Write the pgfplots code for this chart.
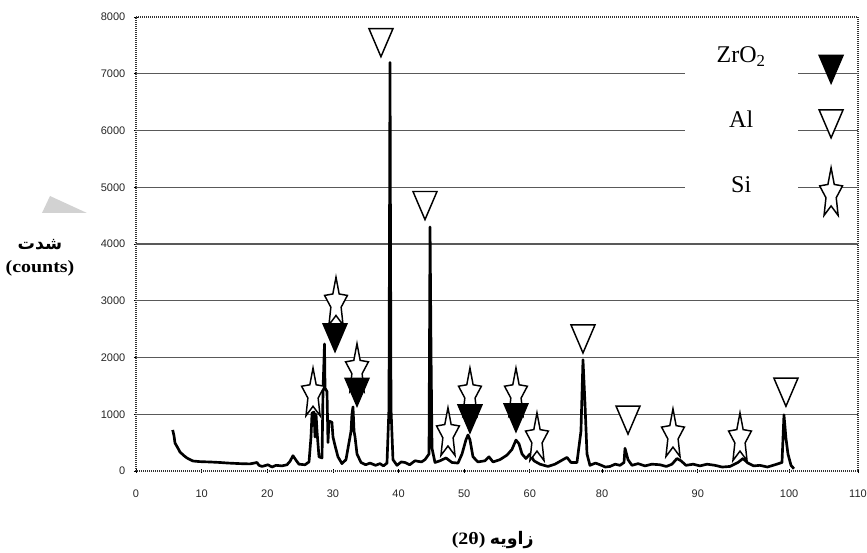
\documentclass[border=0pt]{standalone}
\usepackage{fontspec}
\setmainfont{Liberation Serif}
\newfontfamily\tickfont{Liberation Sans}
\newfontfamily\labelfont[FakeStretch=1.15]{Liberation Serif}
\newfontfamily\arabicfont[Script=Arabic]{DejaVu Sans}
\TeXXeTstate=1
\usepackage{pgfplots}
\usepackage{pgfplotstable}
\pgfplotsset{compat=1.18}

% open five-pointed star used for the Si reflections
\pgfdeclareplotmark{ostar}{%
  \pgfpathmoveto{\pgfpointpolar{90}{\pgfplotmarksize}}%
  \pgfpathlineto{\pgfpointpolar{126}{0.45\pgfplotmarksize}}%
  \pgfpathlineto{\pgfpointpolar{162}{\pgfplotmarksize}}%
  \pgfpathlineto{\pgfpointpolar{198}{0.45\pgfplotmarksize}}%
  \pgfpathlineto{\pgfpointpolar{234}{\pgfplotmarksize}}%
  \pgfpathlineto{\pgfpointpolar{270}{0.45\pgfplotmarksize}}%
  \pgfpathlineto{\pgfpointpolar{306}{\pgfplotmarksize}}%
  \pgfpathlineto{\pgfpointpolar{342}{0.45\pgfplotmarksize}}%
  \pgfpathlineto{\pgfpointpolar{18}{\pgfplotmarksize}}%
  \pgfpathlineto{\pgfpointpolar{54}{0.45\pgfplotmarksize}}%
  \pgfpathclose
  \pgfusepathqfillstroke
}

% diffraction pattern (x in displayed axis units)
\pgfplotstableread{
x y
5.59 723
5.79 620
5.94 494
6.40 400
6.70 335
7.31 270
7.77 229
8.68 176
9.75 165
11.27 159
12.80 150
13.86 141
15.84 130
17.37 125
18.43 150
18.74 100
19.20 80
20.11 110
20.72 70
21.33 100
22.24 90
23.00 110
23.46 170
23.92 270
24.38 190
24.83 120
25.75 110
26.36 160
26.66 600
26.82 1020
27.12 1040
27.27 600
27.43 1000
27.58 700
27.88 250
28.34 230
28.50 1460
28.72 2240
28.80 1460
29.10 1400
29.25 500
29.40 880
29.85 860
30.01 600
30.32 450
30.77 250
31.38 130
31.99 200
32.45 500
32.76 700
32.90 1000
33.06 1130
33.22 700
33.37 600
33.67 300
34.28 150
35.00 110
35.65 140
36.50 100
37.17 130
37.70 90
38.24 140
38.54 1100
38.70 7200
38.85 1100
39.15 200
39.76 100
40.40 160
40.98 150
41.70 110
42.50 180
43.50 160
44.03 200
44.64 300
44.80 4300
44.95 2080
45.10 400
45.55 150
46.31 180
47.23 230
48.14 150
49.06 140
49.67 300
50.27 550
50.58 635
50.88 550
51.34 250
52.10 160
53.17 180
53.78 250
54.39 160
55.45 200
56.52 280
57.28 380
57.89 545
58.35 480
58.81 300
59.41 220
60.02 300
60.63 180
61.55 120
62.77 80
63.83 120
65.05 200
65.66 240
66.27 150
67.18 150
67.79 700
68.10 1960
68.40 1200
68.71 300
69.16 100
70.00 140
70.69 110
71.50 70
72.21 80
73.00 120
73.74 100
74.35 150
74.50 400
74.96 200
75.56 100
76.50 130
77.54 90
78.60 120
79.83 110
80.80 80
81.66 120
82.42 220
83.03 180
83.79 100
84.90 120
85.92 90
87.00 120
88.21 100
89.30 70
90.49 80
91.71 150
92.47 220
93.23 140
94.10 90
95.06 100
96.20 70
97.35 110
98.42 150
98.72 990
99.02 580
99.33 300
99.79 100
100.24 40
}\xrd

\begin{document}
\begin{tikzpicture}
\useasboundingbox (-102pt,-61.5pt) rectangle (548.25pt,353.25pt);
\begin{axis}[
    scale only axis,
    width=541.5pt, height=340.5pt,
    xmin=0, xmax=110, ymin=0, ymax=8000,
    xtick={0,10,20,30,40,50,60,71,85.6,99.5,110},
    xticklabels={0,10,20,30,40,50,60,80,90,100,110},
    ytick={0,1000,...,8000},
    extra y ticks={1000,2000,...,7000},
    extra y tick labels={,,,,,,},
    extra y tick style={grid=major, major tick length=0pt},
    major grid style={black!65, line width=1.1pt},
    tick pos=left, tick align=center, major tick length=3pt,
    tick style={black, line width=0.6pt},
    axis line style={black!80, line width=1.6pt, dash pattern=on 1pt off 0.5pt},
    ticklabel style={font=\tickfont\fontsize{8.25}{10}\selectfont, text=black!85},
    /pgf/number format/assume math mode=true,
    /pgf/number format/1000 sep={},
    scaled y ticks=false,
    xticklabel style={yshift=-9pt},
    yticklabel style={xshift=-3pt},
    clip=false,
]
% white box behind the legend
\fill[white] (axis cs:83.6,4300) rectangle (axis cs:100.9,7850);

\addplot[black, line width=2pt, line join=round] table {\xrd};

% Si
\addplot[only marks, mark=ostar, mark size=9pt,
  mark options={fill=white, draw=black, line width=1.1pt, yscale=2.2}]
  coordinates {(26.97,1350) (30.47,2950) (33.67,1780) (47.53,650) (50.88,1350)
               (57.89,1350) (61.09,560) (81.81,630) (92.02,560)};
% ZrO2
\addplot[only marks, mark=triangle*, mark size=10.4pt,
  mark options={fill=black, draw=black, line width=1pt, rotate=180, yscale=1.35}]
  coordinates {(30.32,2430) (33.67,1470) (50.88,1000) (57.89,1020)};
% Al
\addplot[only marks, mark=triangle*, mark size=10.4pt,
  mark options={fill=white, draw=black, line width=1.1pt, rotate=180, yscale=1.35}]
  coordinates {(37.32,7630) (44.03,4760) (68.10,2410) (74.96,980) (99.02,1470)};

% legend
\node[anchor=base, font=\fontsize{18}{20}\selectfont] at (axis cs:92.2,7190) {ZrO\textsubscript{2}};
\node[anchor=base, font=\fontsize{18}{20}\selectfont] at (axis cs:92.2,6045) {Al};
\node[anchor=base, font=\fontsize{18}{20}\selectfont] at (axis cs:92.2,4915) {Si};
\addplot[only marks, mark=triangle*, mark size=10.4pt,
  mark options={fill=black, draw=black, line width=1pt, rotate=180, yscale=1.35}]
  coordinates {(105.9,7160)};
\addplot[only marks, mark=triangle*, mark size=10.4pt,
  mark options={fill=white, draw=black, line width=1.1pt, rotate=180, yscale=1.35}]
  coordinates {(105.9,6200)};
\addplot[only marks, mark=ostar, mark size=9pt,
  mark options={fill=white, draw=black, line width=1.1pt, yscale=2.2}]
  coordinates {(105.9,4880)};

% axis titles
\node[align=center, font=\fontsize{13}{17}\selectfont] at (rel axis cs:-0.133,0.469)
  {{\arabicfont\bfseries\beginR شدت\endR}\\{\labelfont\bfseries (counts)}};
\node[font=\fontsize{13}{17}\selectfont] at (rel axis cs:0.494,-0.152)
  {{\labelfont\bfseries (2θ)} {\arabicfont\bfseries\beginR زاویه\endR}};
\end{axis}
\fill[gray!35] (-64.5pt,206.25pt) -- (-36.75pt,193.5pt) -- (-70.5pt,193.5pt) -- cycle;
\end{tikzpicture}
\end{document}
